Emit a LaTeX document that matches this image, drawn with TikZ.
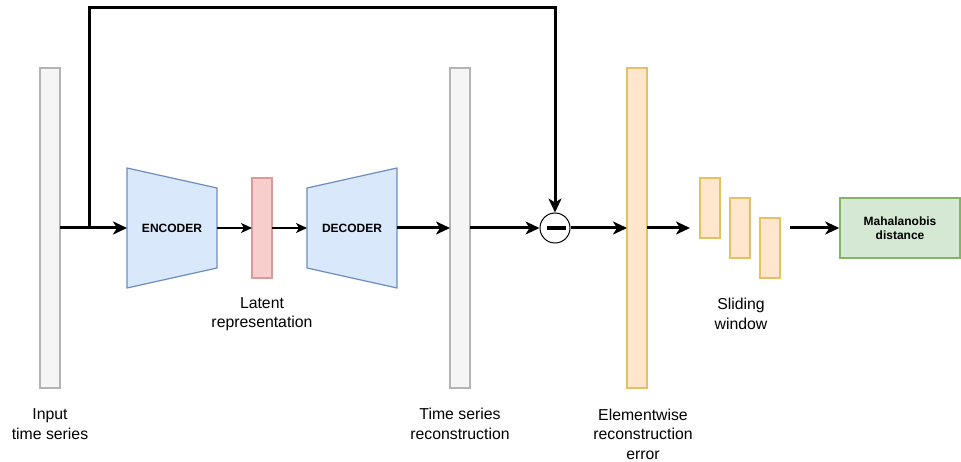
\documentclass[tikz,border=0pt]{standalone}
\usepackage{fontspec}
\setmainfont{Liberation Sans}
\usetikzlibrary{arrows.meta}
\definecolor{grayF}{HTML}{F5F5F5}
\definecolor{grayD}{HTML}{B3B3B3}
\definecolor{blueF}{HTML}{DAE8FC}
\definecolor{blueD}{HTML}{6C8EBF}
\definecolor{redF}{HTML}{F8CECC}
\definecolor{redD}{HTML}{D99A98}
\definecolor{orF}{HTML}{FFE6CC}
\definecolor{orD}{HTML}{E6C064}
\definecolor{grF}{HTML}{D5E8D4}
\definecolor{grD}{HTML}{82B366}
\tikzset{
  bar/.style={draw, line width=1.2pt, minimum width=20pt, inner sep=0pt, outer sep=0pt},
  graybar/.style={bar, draw=grayD, fill=grayF},
  redbar/.style={bar, draw=redD, fill=redF},
  orbar/.style={bar, draw=orD, fill=orF},
  coder/.style={draw=blueD, fill=blueF, line width=1.2pt, line join=miter},
  lbl/.style={font=\fontsize{15.8}{19.5}\selectfont, align=center, inner sep=0pt},
  blbl/.style={font=\fontsize{12}{14}\selectfont\bfseries, align=center, inner sep=0pt},
  thk/.style={line width=3pt, -{Stealth[length=14pt,width=13pt,inset=4pt]}},
  thn/.style={line width=1.5pt, -{Stealth[length=11pt,width=10pt,inset=3pt]}},
}
\begin{document}
\begin{tikzpicture}[x=1pt,y=-1pt]
\useasboundingbox (0,0) rectangle (961,462);
% bars
\node[graybar, minimum height=320pt] (inp) at (50,228) {};
\node[redbar, minimum height=100pt] (lat) at (262,228) {};
\node[graybar, minimum height=320pt] (rec) at (460,228) {};
\node[orbar, minimum height=320pt] (err) at (637,228) {};
\node[orbar, minimum height=60pt] (w1) at (710,208) {};
\node[orbar, minimum height=60pt] (w2) at (740,228) {};
\node[orbar, minimum height=60pt] (w3) at (770,248) {};
% encoder / decoder
\draw[coder] (127,168) -- (217,188) -- (217,268) -- (127,288) -- cycle;
\draw[coder] (307,188) -- (397,168) -- (397,288) -- (307,268) -- cycle;
\node[blbl] (enc) at (172,228) {ENCODER};
\node[blbl] (dec) at (352,228) {DECODER};
\coordinate (encL) at (127,228);
\coordinate (encR) at (217,228);
\coordinate (decL) at (307,228);
\coordinate (decR) at (397,228);
% minus
\node[draw=black, line width=1pt, circle, minimum size=30pt, inner sep=0pt, fill=white] (m) at (555,228) {};
\draw[line width=3.5pt] (547,228) -- (566,228);
% mahalanobis
\node[draw=grD, fill=grF, line width=1.5pt, minimum width=120pt, minimum height=60pt, inner sep=0pt, blbl] (mah) at (900,228) {Mahalanobis\\distance};
% connectors
\coordinate (br) at (89,228);
\coordinate (top) at (555,8);
\coordinate (wend) at (690,228);
\coordinate (wstart) at (790,228);
\draw[thk] (inp.east) -- (encL);
\draw[thk] (br) |- (top) -- (m.north);
\draw[thn] (encR) -- (lat.west);
\draw[thn] (lat.east) -- (decL);
\draw[thk] (decR) -- (rec.west);
\draw[thk] (rec.east) -- (m.west);
\draw[thk] (m.east) -- (err.west);
\draw[thk] (err.east) -- (wend);
\draw[thk] (wstart) -- (mah.west);
% labels
\node[lbl] (l1) at (50,424) {Input\\time series};
\node[lbl] (l2) at (262,314) {Latent\\representation};
\node[lbl] (l3) at (460,424) {Time series\\reconstruction};
\node[lbl] (l4) at (643,434) {Elementwise\\reconstruction\\error};
\node[lbl] (l5) at (741,314) {Sliding\\window};
\end{tikzpicture}
\end{document}
